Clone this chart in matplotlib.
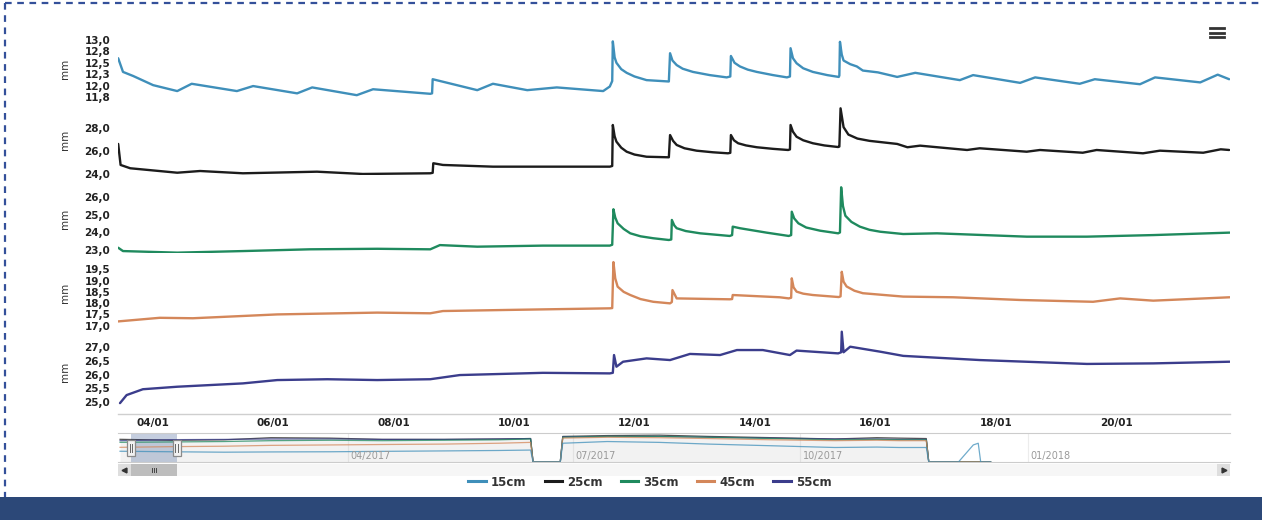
import numpy as np
import pandas as pd
import matplotlib
matplotlib.use("Agg")
import matplotlib.pyplot as plt
import matplotlib.dates as mdates
from matplotlib.lines import Line2D
from matplotlib.patches import Rectangle
from matplotlib.transforms import blended_transform_factory
from datetime import datetime

# ---------------- data ----------------
series_names = ["15cm", "25cm", "35cm", "45cm", "55cm"]
series_colors = ["#3f8fba", "#1c1c1c", "#1f8a5e", "#d4875a", "#3b3d8c"]
y_unit = "mm"

# time = day of month, January 2017 (fractional days)
t15 = [3.43, 3.51, 3.68, 4.01, 4.41, 4.65, 5.40, 5.67, 6.40, 6.65, 7.39, 7.66, 8.61, 8.64, 8.65, 9.39, 9.65,
       10.22, 10.71, 11.48, 11.59, 11.63,
       11.64, 11.67, 11.70, 11.78, 11.87, 12.00, 12.20, 12.57,
       12.59, 12.63, 12.70, 12.80, 12.97, 13.25, 13.53, 13.59,
       13.60, 13.66, 13.75, 13.88, 14.03, 14.30, 14.53, 14.58,
       14.59, 14.63, 14.69, 14.80, 14.96, 15.20, 15.39, 15.40,
       15.41, 15.44, 15.47, 15.58, 15.69, 15.79, 16.04, 16.36, 16.66, 17.40, 17.62, 18.40, 18.65, 19.39,
       19.64, 20.39, 20.64, 21.39, 21.68, 21.87]
v15 = [12.60, 12.30, 12.21, 12.01, 11.88, 12.04, 11.88, 11.99, 11.83, 11.96, 11.79, 11.92, 11.82, 11.83, 12.14,
       11.90, 12.04, 11.90, 11.96, 11.88, 11.98, 12.10,
       12.97, 12.62, 12.50, 12.36, 12.28, 12.20, 12.12, 12.09,
       12.71, 12.55, 12.45, 12.37, 12.30, 12.23, 12.18, 12.20,
       12.65, 12.50, 12.42, 12.35, 12.30, 12.23, 12.18, 12.20,
       12.82, 12.60, 12.49, 12.38, 12.30, 12.23, 12.19, 12.22,
       12.96, 12.68, 12.55, 12.47, 12.42, 12.33, 12.29, 12.19, 12.28, 12.12, 12.23, 12.06, 12.18, 12.04,
       12.14, 12.03, 12.18, 12.07, 12.24, 12.14]

t25 = [3.43, 3.47, 3.63, 4.41, 4.79, 5.50, 6.73, 7.49, 8.61, 8.65, 8.66, 8.82, 9.65, 11.59, 11.63,
       11.64, 11.67, 11.70, 11.78, 11.87, 12.00, 12.20, 12.57,
       12.59, 12.64, 12.70, 12.83, 13.03, 13.30, 13.55, 13.59,
       13.60, 13.65, 13.72, 13.85, 14.03, 14.30, 14.55, 14.58,
       14.59, 14.63, 14.69, 14.80, 14.96, 15.15, 15.38, 15.40,
       15.42, 15.47, 15.55, 15.70, 15.90, 16.36, 16.53, 16.74, 17.52, 17.73, 18.51, 18.73, 19.44, 19.67,
       20.44, 20.72, 21.44, 21.73, 21.87]
v25 = [26.63, 24.79, 24.50, 24.11, 24.26, 24.06, 24.20, 24.00, 24.06, 24.10, 24.94, 24.79, 24.64, 24.64, 24.70,
       28.29, 27.30, 26.83, 26.30, 25.95, 25.70, 25.51, 25.46,
       27.41, 26.90, 26.54, 26.25, 26.04, 25.90, 25.81, 25.85,
       27.41, 26.95, 26.69, 26.50, 26.34, 26.20, 26.10, 26.15,
       28.29, 27.70, 27.26, 26.95, 26.69, 26.50, 26.36, 26.40,
       29.75, 28.10, 27.45, 27.10, 26.90, 26.63, 26.34, 26.48, 26.10, 26.25, 25.95, 26.10, 25.86, 26.10,
       25.81, 26.04, 25.86, 26.16, 26.10]

t35 = [3.43, 3.51, 4.41, 5.50, 6.61, 7.73, 8.61, 8.77, 9.39, 10.48, 11.59, 11.63,
       11.65, 11.68, 11.72, 11.82, 11.93, 12.10, 12.31, 12.57, 12.61,
       12.62, 12.66, 12.70, 12.85, 13.09, 13.58, 13.62,
       13.63, 13.75, 14.19, 14.56, 14.60,
       14.61, 14.65, 14.72, 14.85, 15.08, 15.38, 15.41,
       15.43, 15.46, 15.50, 15.60, 15.74, 15.90, 16.08, 16.46, 17.02, 18.51, 19.51, 20.61, 21.88]
v35 = [23.13, 22.94, 22.85, 22.94, 23.04, 23.07, 23.04, 23.28, 23.19, 23.25, 23.25, 23.30,
       25.32, 24.85, 24.52, 24.20, 23.95, 23.78, 23.67, 23.57, 23.60,
       24.71, 24.40, 24.24, 24.08, 23.95, 23.80, 23.85,
       24.33, 24.24, 23.99, 23.80, 23.85,
       25.18, 24.80, 24.52, 24.28, 24.10, 23.95, 24.00,
       26.57, 25.50, 24.95, 24.60, 24.33, 24.15, 24.04, 23.91, 23.95, 23.76, 23.76, 23.85, 23.99]

t45 = [3.43, 4.12, 4.67, 6.07, 7.73, 8.61, 8.82, 9.93, 11.59, 11.63,
       11.65, 11.68, 11.72, 11.82, 11.93, 12.10, 12.31, 12.59, 12.62,
       12.63, 12.70, 13.58, 13.62, 13.63, 14.41, 14.56, 14.60,
       14.61, 14.64, 14.69, 14.80, 14.96, 15.39, 15.42,
       15.44, 15.47, 15.52, 15.65, 15.79, 16.46, 17.29, 18.40, 19.61, 20.06, 20.61, 21.88]
v45 = [17.19, 17.35, 17.33, 17.50, 17.58, 17.55, 17.65, 17.70, 17.77, 17.78,
       19.82, 19.10, 18.73, 18.50, 18.36, 18.18, 18.06, 17.99, 18.05,
       18.58, 18.21, 18.17, 18.18, 18.36, 18.26, 18.21, 18.24,
       19.10, 18.70, 18.51, 18.42, 18.36, 18.27, 18.30,
       19.39, 18.95, 18.74, 18.55, 18.44, 18.29, 18.26, 18.14, 18.06, 18.21, 18.11, 18.26]

t55 = [3.46, 3.57, 3.84, 4.41, 5.50, 6.07, 6.90, 7.73, 8.61, 9.10, 10.48, 11.59, 11.64, 11.66, 11.70, 11.81,
       12.20, 12.59, 12.92, 13.42, 13.70, 14.13, 14.58, 14.69, 15.38, 15.43, 15.44, 15.47, 15.58, 16.08, 16.46,
       17.73, 19.51, 20.61, 21.88]
v55 = [24.97, 25.26, 25.47, 25.56, 25.68, 25.80, 25.83, 25.80, 25.83, 25.98, 26.06, 26.04, 26.06, 26.70, 26.28,
       26.46, 26.58, 26.52, 26.74, 26.70, 26.88, 26.88, 26.70, 26.86, 26.76, 26.80, 27.54, 26.80, 27.00, 26.82,
       26.67, 26.52, 26.38, 26.40, 26.46]

y_ticks = [[11.75, 12.0, 12.25, 12.5, 12.75, 13.0],
           [24.0, 26.0, 28.0],
           [23.0, 24.0, 25.0, 26.0],
           [17.0, 17.5, 18.0, 18.5, 19.0, 19.5],
           [25.0, 25.5, 26.0, 26.5, 27.0]]
y_tick_labels = [["11,8", "12,0", "12,3", "12,5", "12,8", "13,0"],
                 ["24,0", "26,0", "28,0"],
                 ["23,0", "24,0", "25,0", "26,0"],
                 ["17,0", "17,5", "18,0", "18,5", "19,0", "19,5"],
                 ["25,0", "25,5", "26,0", "26,5", "27,0"]]
x_tick_days = [4, 6, 8, 10, 12, 14, 16, 18, 20]

# navigator (whole period)
nav_dates = ["2016-12-30", "2017-01-20", "2017-02-10", "2017-03-01", "2017-03-25", "2017-04-15", "2017-05-10",
             "2017-06-01", "2017-06-14", "2017-06-15", "2017-06-26", "2017-06-27", "2017-07-15", "2017-08-05",
             "2017-08-25", "2017-09-20", "2017-10-15", "2017-11-01", "2017-11-10", "2017-11-21", "2017-11-22",
             "2017-12-04", "2017-12-10", "2017-12-12", "2017-12-13", "2017-12-17"]
nav15 = [12.6, 12.0, 11.5, 11.8, 12.0, 12.5, 13.0, 13.5, 14.0, 0, 0, 22.0, 24.0, 23.0, 21.0, 19.0, 17.0, 17.5,
         17.0, 17.0, 0, 0, 20.0, 22.0, 0, 0]
nav25 = [26.6, 25.5, 26.0, 28.5, 28.0, 26.5, 26.5, 27.0, 27.5, 0, 0, 30.0, 31.0, 31.5, 30.0, 28.5, 27.0, 28.5,
         28.0, 27.5, 0, 0, 0, 0, 0, 0]
nav35 = [23.1, 23.5, 24.0, 25.0, 25.5, 25.0, 25.5, 26.0, 27.0, 0, 0, 29.0, 30.0, 30.0, 29.0, 27.5, 26.0, 26.5,
         26.0, 26.0, 0, 0, 0, 0, 0, 0]
nav45 = [17.2, 18.0, 18.5, 19.5, 20.0, 20.5, 21.0, 22.0, 23.0, 0, 0, 28.0, 29.0, 28.5, 27.5, 26.0, 25.0, 25.5,
         25.0, 25.0, 0, 0, 0, 0, 0, 0]
nav55 = [25.0, 26.2, 26.5, 27.0, 27.0, 26.5, 26.5, 27.0, 27.5, 0, 0, 29.5, 30.0, 30.0, 29.0, 28.0, 27.0, 27.0,
         26.5, 26.5, 0, 0, 0, 0, 0, 0]
nav_tick_dates = ["2017-04-01", "2017-07-01", "2017-10-01", "2018-01-01"]

# ---------------- layout ----------------
W, H = 1262, 520
plt.rcParams["font.family"] = ["DejaVu Sans"]
fig = plt.figure(figsize=(W / 100, H / 100), dpi=100)
fig.patch.set_facecolor("white")


def fbox(l, t, r, b):
    return [l / W, 1 - b / H, (r - l) / W, (b - t) / H]


base = mdates.date2num(datetime(2017, 1, 1))


def day_num(days):
    return base + np.asarray(days, float) - 1.0


L, R = 118, 1230
main_xlim = (float(day_num(3.427)), float(day_num(21.884)))
panel_boxes = [(39, 98), (105, 175), (184, 253), (259, 327), (329, 414)]
panel_ylims = [(11.728, 13.022), (23.91, 30.04), (22.83, 26.757), (16.942, 19.957), (24.579, 27.637)]
series_t = [t15, t25, t35, t45, t55]
series_v = [v15, v25, v35, v45, v55]

for i in range(5):
    top, bot = panel_boxes[i]
    ax = fig.add_axes(fbox(L, top, R, bot))
    ax.set_facecolor("none")
    ax.plot(day_num(series_t[i]), series_v[i], color=series_colors[i], lw=1.7,
            solid_joinstyle="round", solid_capstyle="round")
    ax.set_xlim(main_xlim)
    ax.set_ylim(panel_ylims[i])
    ax.set_yticks(y_ticks[i])
    ax.set_yticklabels(y_tick_labels[i])
    ax.tick_params(axis="y", length=0, pad=5.5, labelsize=7.5, labelcolor="#222222")
    for lab in ax.get_yticklabels():
        lab.set_fontweight("bold")
    for s in ax.spines.values():
        s.set_visible(False)
    ax.set_ylabel(y_unit, fontsize=7.5, color="#333333")
    ax.yaxis.set_label_coords((70 - L) / (R - L), 0.5)
    if i < 4:
        ax.set_xticks([])
    else:
        ax.xaxis.set_major_locator(mdates.DayLocator(bymonthday=x_tick_days))
        ax.xaxis.set_major_formatter(mdates.DateFormatter("%d/%m"))
        ax.tick_params(axis="x", length=0, pad=3, labelsize=7.5, labelcolor="#222222")
        for lab in ax.get_xticklabels():
            lab.set_fontweight("bold")
        ax.spines["bottom"].set_visible(True)
        ax.spines["bottom"].set_color("#cfcfcf")
        ax.spines["bottom"].set_linewidth(1.0)
        ax.spines["bottom"].set_linestyle((0, (1.5, 1)))

# ---------------- navigator ----------------
nav_x = mdates.date2num(pd.to_datetime(nav_dates).to_pydatetime())
nav_xlim = (base - 2.83, base + 446.8)
nav = fig.add_axes(fbox(L, 433, R, 462))
nav.set_facecolor("none")
nav.fill_between(nav_x, 0, nav25, color="#9a9a9a", alpha=0.12, lw=0)
for vals, c in zip([nav25, nav55, nav35, nav45, nav15], [series_colors[1], series_colors[4], series_colors[2],
                                                         series_colors[3], series_colors[0]]):
    nav.plot(nav_x, vals, color=c, lw=0.9, alpha=0.75)
nav.set_xlim(nav_xlim)
nav.set_ylim(0, 34)
nav.set_xticks([])
nav.set_yticks([])
for s in nav.spines.values():
    s.set_color("#cccccc")
    s.set_linewidth(0.8)
    s.set_linestyle((0, (1.5, 1)))
nav.spines["left"].set_visible(False)
nav.spines["right"].set_visible(False)
navtrans = blended_transform_factory(nav.transData, nav.transAxes)
for d in nav_tick_dates:
    dn = mdates.date2num(pd.Timestamp(d).to_pydatetime())
    nav.axvline(dn, color="#ececec", lw=0.8, zorder=0)
    nav.text(dn + 1.2, 0.22, pd.Timestamp(d).strftime("%m/%Y"), transform=navtrans,
             fontsize=7, color="#9a9a9a", ha="left", va="center")
nav.axvspan(main_xlim[0], main_xlim[1], color="#7f93b8", alpha=0.45, lw=0)
ppd = (R - L) / (nav_xlim[1] - nav_xlim[0])
for xe in main_xlim:
    nav.add_patch(Rectangle((xe - 4 / ppd, 0.5 - 8 / 29), 8 / ppd, 16 / 29, transform=navtrans,
                            fc="#f2f2f2", ec="#8a8a8a", lw=0.9, zorder=6, clip_on=False))
    for dx in (-1.3, 1.3):
        nav.plot([xe + dx / ppd] * 2, [0.5 - 4 / 29, 0.5 + 4 / 29], transform=navtrans,
                 color="#666666", lw=0.7, zorder=7, clip_on=False)

# scrollbar
sb = fig.add_axes(fbox(L, 464, R, 476))
sb.set_xlim(nav_xlim)
sb.set_ylim(0, 1)
sb.set_facecolor("#f6f6f6")
for s in sb.spines.values():
    s.set_visible(False)
sb.set_xticks([])
sb.set_yticks([])
sb.axvspan(main_xlim[0], main_xlim[1], color="#bdbdbd", lw=0)
mid = 0.5 * (main_xlim[0] + main_xlim[1])
for dx in (-2, 0, 2):
    sb.plot([mid + dx / ppd] * 2, [0.3, 0.7], color="#444444", lw=0.7)
bw = 13 / (R - L)
sb.add_patch(Rectangle((0, 0), bw, 1, transform=sb.transAxes, fc="#dedede", ec="none"))
sb.add_patch(Rectangle((1 - bw, 0), bw, 1, transform=sb.transAxes, fc="#dedede", ec="none"))
sb.plot([bw / 2], [0.5], marker="<", ms=3.5, color="#333333", transform=sb.transAxes)
sb.plot([1 - bw / 2], [0.5], marker=">", ms=3.5, color="#333333", transform=sb.transAxes)

# ---------------- legend ----------------
handles = [Line2D([], [], color=c, lw=2.2) for c in series_colors]
fig.legend(handles, series_names, loc="center", bbox_to_anchor=(650 / W, 1 - 482 / H), ncol=5,
           frameon=False, handlelength=1.45, handletextpad=0.45, columnspacing=1.55,
           prop={"size": 8.5, "weight": "bold"}, labelcolor="#333333")

# ---------------- decorations ----------------
fig.add_artist(Rectangle((0, 0), 1, 23 / H, transform=fig.transFigure, fc="#2c4878", ec="none"))
fig.add_artist(Line2D([5 / W, 1], [1 - 3 / H, 1 - 3 / H], transform=fig.transFigure,
                      color="#34509a", lw=1.6, ls=(0, (3, 2.5))))
fig.add_artist(Line2D([5 / W, 5 / W], [1 - 3 / H, 23 / H], transform=fig.transFigure,
                      color="#34509a", lw=1.6, ls=(0, (3, 2.5))))
for yy in (28, 32.5, 37):
    fig.add_artist(Line2D([1210 / W, 1224 / W], [1 - yy / H] * 2, transform=fig.transFigure,
                          color="#333333", lw=2))

fig.savefig("out.png", dpi=100, facecolor="white")
